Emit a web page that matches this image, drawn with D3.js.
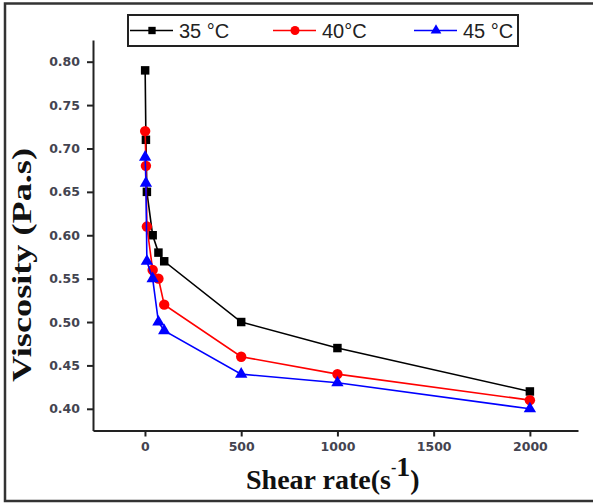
<!DOCTYPE html>
<html><head><meta charset="utf-8">
<script src="https://cdn.jsdelivr.net/npm/d3@7"></script>
<style>body{margin:0;background:#fff}svg{display:block}</style>
</head><body>
<svg id="chart" width="593" height="504"></svg>
<script>
const shearRates = [1, 5, 10, 40, 70, 100, 500, 1000, 2000];
const visc35 = [0.79, 0.71, 0.65, 0.60, 0.58, 0.57, 0.50, 0.47, 0.42];
const visc40 = [0.72, 0.68, 0.61, 0.56, 0.55, 0.52, 0.46, 0.44, 0.41];
const visc45 = [0.69, 0.66, 0.57, 0.55, 0.50, 0.49, 0.44, 0.43, 0.40];
const seriesNames = ["35 °C", "40°C", "45 °C"];
const xTicks = [0, 500, 1000, 1500, 2000];
const yTicks = [0.40, 0.45, 0.50, 0.55, 0.60, 0.65, 0.70, 0.75, 0.80];

const series = [
  {name: seriesNames[0], values: visc35, color: "#000000", shape: d3.symbolSquare, size: 72},
  {name: seriesNames[1], values: visc40, color: "#ff0000", shape: d3.symbolCircle, size: 85},
  {name: seriesNames[2], values: visc45, color: "#0000ff", shape: d3.symbolTriangle, size: 66}
];

const svg = d3.select("#chart");
// outer frame
svg.append("rect").attr("x", 5).attr("y", 3.5).attr("width", 600).attr("height", 497.5)
  .attr("fill", "none").attr("stroke", "#333").attr("stroke-width", 2.5);

const x = d3.scaleLinear().domain([-270, 2250]).range([93, 578]);
const y = d3.scaleLinear().domain([0.375, 0.825]).range([430.5, 40]);

// minor ticks
const xMinor = d3.range(250, 2251, 500);
const yMinor = d3.range(0, 10).map(i => 0.375 + i * 0.05).concat([0.825]);

const gx = svg.append("g").attr("transform", "translate(0,430.5)");
gx.call(d3.axisBottom(x).tickValues(xMinor).tickSize(4).tickFormat(""));
gx.call(d3.axisBottom(x).tickValues(xTicks).tickSize(6).tickSizeOuter(0).tickPadding(6).tickFormat(d3.format("d")));
const gy = svg.append("g").attr("transform", "translate(93,0)");
gy.call(d3.axisLeft(y).tickValues(yMinor).tickSize(4).tickFormat(""));
gy.call(d3.axisLeft(y).tickValues(yTicks).tickSize(6).tickSizeOuter(0).tickPadding(7).tickFormat(d3.format(".2f")));

svg.selectAll(".domain").attr("stroke", "#222").attr("stroke-width", 2);
svg.selectAll(".tick line").attr("stroke", "#222").attr("stroke-width", 2);
svg.selectAll(".tick text").attr("font-family", "DejaVu Sans").attr("font-size", 12.5)
  .attr("font-weight", "bold").attr("fill", "#444450");

// series
const line = d3.line().x((d, i) => x(shearRates[i])).y(d => y(d));
series.forEach(s => {
  svg.append("path").datum(s.values).attr("d", line).attr("fill", "none")
    .attr("stroke", s.color).attr("stroke-width", 1.6);
  svg.selectAll(null).data(s.values).enter().append("path")
    .attr("d", d3.symbol().type(s.shape).size(s.size))
    .attr("transform", (d, i) => `translate(${x(shearRates[i])},${y(d)})`)
    .attr("fill", s.color);
});

// legend
const lg = svg.append("g");
lg.append("rect").attr("x", 128).attr("y", 15).attr("width", 390).attr("height", 31)
  .attr("fill", "#fff").attr("stroke", "#222").attr("stroke-width", 2);
const legX = [130, 273, 414];
series.forEach((s, i) => {
  const lx = legX[i];
  lg.append("line").attr("x1", lx).attr("x2", lx + 43).attr("y1", 30.5).attr("y2", 30.5)
    .attr("stroke", s.color).attr("stroke-width", 1.6);
  lg.append("path").attr("d", d3.symbol().type(s.shape).size(s.size * 0.75))
    .attr("transform", `translate(${lx + 22},30.5)`).attr("fill", s.color);
  lg.append("text").attr("x", lx + 49).attr("y", 38).text(s.name)
    .attr("font-family", "Liberation Sans, Arial").attr("font-size", 20).attr("fill", "#222");
});

// axis titles
const xt = svg.append("text").attr("x", 246).attr("y", 489)
  .attr("font-family", "Liberation Serif, Times New Roman").attr("font-weight", "bold")
  .attr("font-size", 28).attr("fill", "#111");
xt.append("tspan").text("Shear rate(s");
xt.append("tspan").text("-").attr("dy", -16).attr("font-size", 16);
xt.append("tspan").text("1").attr("font-size", 28).attr("dy", 3);
xt.append("tspan").text(")").attr("dy", 13);

svg.append("text").attr("transform", "translate(31,265) rotate(-90)")
  .attr("text-anchor", "middle")
  .attr("font-family", "Liberation Serif, Times New Roman").attr("font-weight", "bold")
  .attr("font-size", 27).attr("fill", "#111")
  .attr("textLength", 234).attr("lengthAdjust", "spacingAndGlyphs")
  .text("Viscosity (Pa.s)");
</script>
</body></html>
